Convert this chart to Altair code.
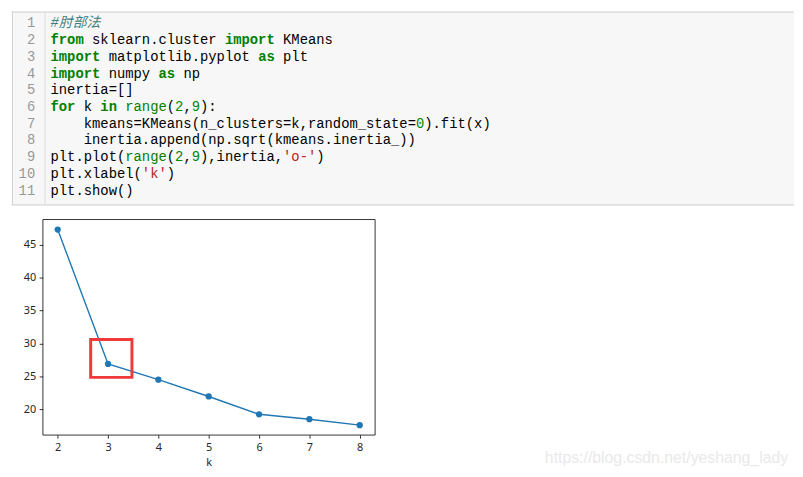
import re
import altair as alt
import pandas as pd

# ---------------- data ----------------
k_values = [2, 3, 4, 5, 6, 7, 8]
inertia_sqrt = [47.3, 26.9, 24.5, 21.95, 19.25, 18.5, 17.6]
x_ticks = [2, 3, 4, 5, 6, 7, 8]
y_ticks = [20, 25, 30, 35, 40, 45]
x_domain = [1.7, 8.3]
y_domain = [16.14, 48.86]
highlight_x = [2.655, 3.475]
highlight_y = [24.85, 30.6]
code_lines = [
    "#肘部法",
    "from sklearn.cluster import KMeans",
    "import matplotlib.pyplot as plt",
    "import numpy as np",
    "inertia=[]",
    "for k in range(2,9):",
    "    kmeans=KMeans(n_clusters=k,random_state=0).fit(x)",
    "    inertia.append(np.sqrt(kmeans.inertia_))",
    "plt.plot(range(2,9),inertia,'o-')",
    "plt.xlabel('k')",
    "plt.show()",
]
watermark_text = "https://blog.csdn.net/yeshang_lady"

# ---------------- tokenise code ----------------
KEYWORDS = {"from", "import", "as", "for", "in"}
BUILTINS = {"range"}
rows = []
for i, line in enumerate(code_lines, start=1):
    for m in re.finditer(r"#.*|'[^']*'|[A-Za-z_][A-Za-z_0-9]*|\d+|[^\sA-Za-z_0-9'#]+", line):
        t = m.group(0)
        if t.startswith("#"):
            kind = "comment"
        elif t.startswith("'"):
            kind = "string"
        elif t in KEYWORDS:
            kind = "keyword"
        elif t in BUILTINS:
            kind = "builtin"
        elif t.isdigit():
            kind = "number"
        else:
            kind = "plain"
        rows.append({"line": i, "col": m.start(), "text": t, "kind": kind})
tokens = pd.DataFrame(rows)
line_nums = pd.DataFrame({"line": list(range(1, len(code_lines) + 1))})
line_nums["label"] = line_nums["line"].astype(str)

MONO = "Liberation Mono, 'Noto Sans CJK SC', monospace"
CODE_W = 760
CODE_H = 196
col_scale = alt.Scale(domain=[0, 100], range=[8, 848])
line_scale = alt.Scale(domain=[1, 11], range=[12, 181])
color_scale = alt.Scale(
    domain=["plain", "keyword", "builtin", "number", "string", "comment"],
    range=["#000000", "#008000", "#008000", "#008800", "#BA2121", "#408080"],
)

one = pd.DataFrame({"o": [0]})
box = alt.Chart(one).mark_rect(fill="#f7f7f7").encode(
    x=alt.value(-31), x2=alt.value(CODE_W), y=alt.value(0), y2=alt.value(CODE_H))
top_border = alt.Chart(one).mark_rule(color="#cfcfcf", strokeWidth=1).encode(
    x=alt.value(-31), x2=alt.value(CODE_W), y=alt.value(0.5))
bottom_border = alt.Chart(one).mark_rule(color="#cfcfcf", strokeWidth=1).encode(
    x=alt.value(-31), x2=alt.value(CODE_W), y=alt.value(CODE_H - 0.5))
left_border = alt.Chart(one).mark_rule(color="#cfcfcf", strokeWidth=1).encode(
    x=alt.value(-30.5), y=alt.value(0), y2=alt.value(CODE_H))
gutter = alt.Chart(one).mark_rule(color="#dddddd", strokeWidth=1).encode(
    x=alt.value(2.5), y=alt.value(0), y2=alt.value(CODE_H))

nums = alt.Chart(line_nums).mark_text(
    align="right", baseline="middle", font=MONO, fontSize=14, color="#999999"
).encode(
    x=alt.value(-7.5),
    y=alt.Y("line:Q", scale=line_scale, axis=None),
    text="label:N",
)


def token_layer(kinds, **style):
    return alt.Chart(tokens).transform_filter(
        alt.FieldOneOfPredicate(field="kind", oneOf=kinds)
    ).mark_text(align="left", baseline="middle", font=MONO, fontSize=14, **style).encode(
        x=alt.X("col:Q", scale=col_scale, axis=None),
        y=alt.Y("line:Q", scale=line_scale, axis=None),
        text="text:N",
        color=alt.Color("kind:N", scale=color_scale, legend=None),
    )


plain_tokens = token_layer(["plain", "builtin", "number", "string"])
kw_tokens = token_layer(["keyword"], fontWeight="bold")
comment_tokens = token_layer(["comment"], fontStyle="italic")

code_panel = alt.layer(
    box, top_border, bottom_border, left_border, gutter, nums,
    plain_tokens, kw_tokens, comment_tokens,
).properties(width=CODE_W, height=CODE_H, view=alt.ViewBackground(strokeWidth=0))

# ---------------- plot ----------------
plot_df = pd.DataFrame({"k": k_values, "v": inertia_sqrt})
hl_df = pd.DataFrame({"x0": [highlight_x[0]], "x1": [highlight_x[1]],
                      "y0": [highlight_y[0]], "y1": [highlight_y[1]]})
wm_df = pd.DataFrame({"t": [watermark_text]})

xs = alt.Scale(domain=x_domain, nice=False, zero=False)
ys = alt.Scale(domain=y_domain, nice=False, zero=False)
axis_common = dict(
    grid=False, domain=False, ticks=True, tickSize=3.5, tickColor="#000",
    tickWidth=0.8, labelFont="Noto Sans", labelFontSize=11, labelColor="#262626",
    labelPadding=3.5, titleFont="Noto Sans", titleFontSize=11,
    titleFontWeight="normal", titleColor="#262626", titlePadding=4, format="d",
)
x_axis = alt.Axis(values=x_ticks, **axis_common)
y_axis = alt.Axis(values=y_ticks, **axis_common)

base = alt.Chart(plot_df).encode(
    x=alt.X("k:Q", scale=xs, axis=x_axis, title="k"),
    y=alt.Y("v:Q", scale=ys, axis=y_axis, title=None),
)
line = base.mark_line(color="#1f77b4", strokeWidth=1.4)
pts = base.mark_circle(color="#1f77b4", size=40, opacity=1)
hl = alt.Chart(hl_df).mark_rect(fillOpacity=0, stroke="#f03a3a", strokeWidth=3).encode(
    x=alt.X("x0:Q", scale=xs, title="k"), x2="x1:Q",
    y=alt.Y("y0:Q", scale=ys, title=None), y2="y1:Q",
)
wm = alt.Chart(wm_df).mark_text(
    align="left", baseline="middle", font="Liberation Sans", fontSize=16, color="#e9e9e9"
).encode(x=alt.value(508), y=alt.value(242), text="t:N")

plot_panel = alt.layer(line, pts, hl, wm).properties(
    width=336, height=218, view=alt.ViewBackground(stroke="#000000", strokeWidth=0.8)
)

chart = alt.vconcat(code_panel, plot_panel, spacing=12).properties(
    padding={"left": 3, "top": 0, "right": 0, "bottom": 0}, background="white"
)
chart.save("out.html", embed_options={"renderer": "svg", "actions": False})
